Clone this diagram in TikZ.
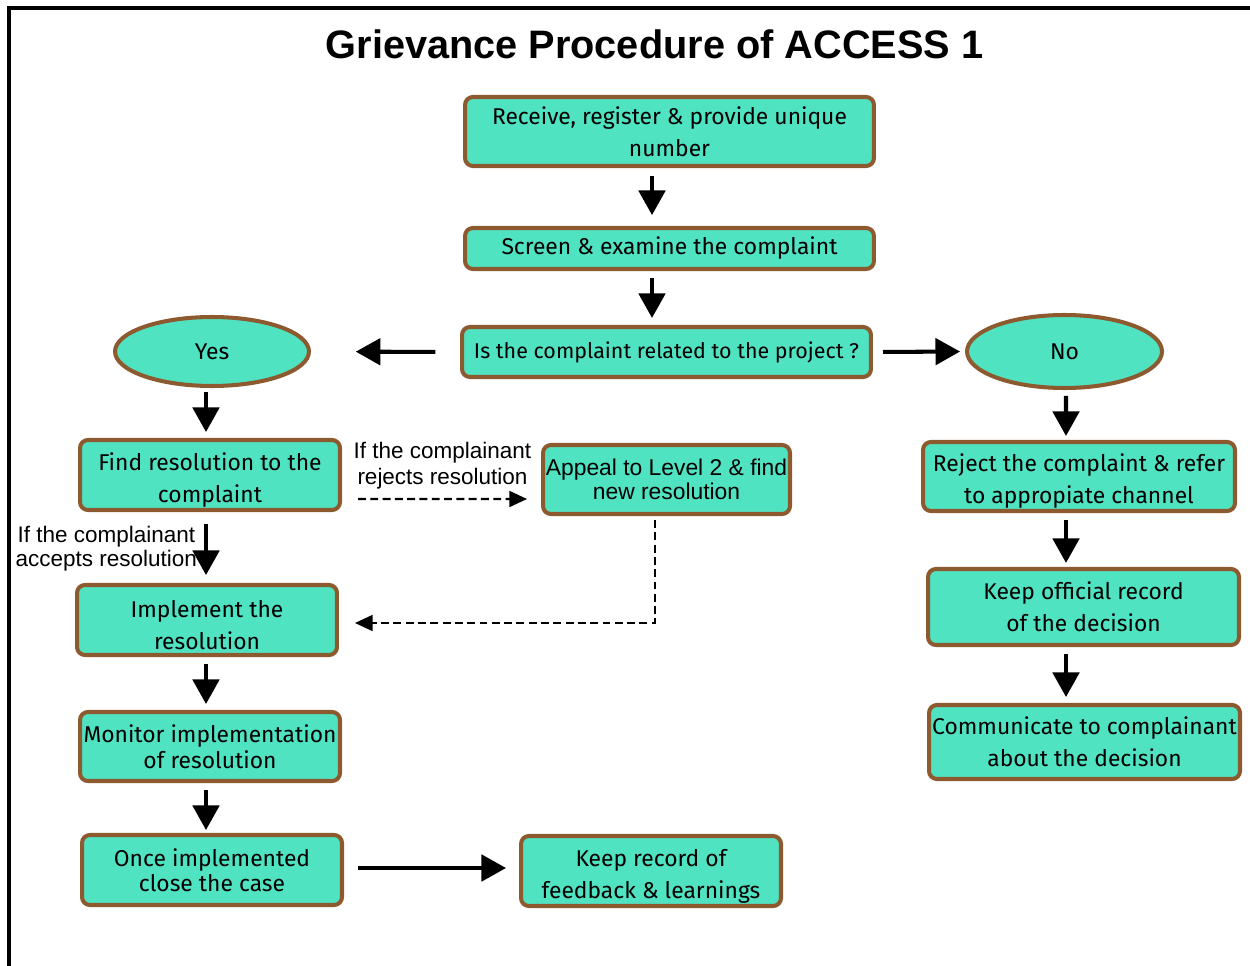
\documentclass[tikz,border=0pt]{standalone}
\usepackage{fontspec}
\setmainfont{Fira Sans}
\newfontfamily\arialfont{Liberation Sans}
\usetikzlibrary{arrows.meta,calc,shapes.geometric}
\definecolor{boxfill}{HTML}{50E3C2}
\definecolor{boxedge}{HTML}{8C5A2E}
\newcommand{\lowline}{\rule{0pt}{15.5pt}}
\begin{document}
\begin{tikzpicture}[x=0.02cm,y=-0.02cm,inner sep=1pt,
procblock/.style={draw=boxedge,fill=boxfill,rectangle,rounded corners=4.5pt,line width=2.3pt,align=center,font=\fontsize{13}{18}\selectfont},
decblock/.style={draw=boxedge,fill=boxfill,ellipse,line width=2.3pt,font=\fontsize{13}{18}\selectfont},
flow/.style={line width=2.3pt,-{Triangle[length=14pt,width=15pt]}},
altflow/.style={line width=1.3pt,dash pattern=on 4.5pt off 2.5pt,-{Triangle[length=10pt,width=9pt]}},
cond/.style={font=\arialfont\fontsize{12.8}{14.5}\selectfont,align=center}]
\useasboundingbox (0,0) rectangle (1250,966);
\draw[line width=2pt] (9,966) -- (9,8) -- (1250,8);
\draw (654.5,44) node[font=\arialfont\bfseries\fontsize{22.6}{26}\selectfont] (title) {Grievance Procedure of ACCESS 1};

\draw (669.5,131.5) node[procblock,minimum width=8.18cm,minimum height=1.38cm] (recv) {Receive, register \& provide unique\\number};
\draw (669.5,248.5) node[procblock,minimum width=8.18cm,minimum height=0.82cm] (screen) {Screen \& examine the complaint};
\draw (666.5,352) node[procblock,minimum width=8.18cm,minimum height=1cm,font=\fontsize{12.2}{15}\selectfont] (related) {Is the complaint related to the project ?};
\draw (212,351.5) node[decblock,minimum width=3.88cm,minimum height=1.38cm] (yes) {Yes};
\draw (1064.5,351.5) node[decblock,minimum width=3.9cm,minimum height=1.46cm] (no) {No};

% left branch
\draw (210,475) node[procblock,minimum width=5.2cm,minimum height=1.4cm] (find) {\lowline Find resolution to the\\complaint};
\draw (666.5,479.5) node[procblock,minimum width=4.94cm,minimum height=1.38cm,font=\arialfont\fontsize{13}{14}\selectfont] (appeal) {Appeal to Level 2 \& find\\new resolution};
\draw (207,620) node[procblock,minimum width=5.2cm,minimum height=1.4cm] (impl) {\lowline Implement the\\resolution};
\draw (210,746.5) node[procblock,minimum width=5.2cm,minimum height=1.38cm,font=\fontsize{13}{14.5}\selectfont] (monitor) {Monitor implementation\\of resolution};
\draw (212,870) node[procblock,minimum width=5.2cm,minimum height=1.4cm,font=\fontsize{13}{14.5}\selectfont] (close) {Once implemented\\close the case};
\draw (651,871) node[procblock,minimum width=5.2cm,minimum height=1.4cm] (learn) {\lowline Keep record of\\feedback \& learnings};

% right branch
\draw (1079,476.5) node[procblock,minimum width=6.24cm,minimum height=1.38cm] (reject) {\lowline Reject the complaint \& refer\\to appropiate channel};
\draw (1083.5,607) node[procblock,minimum width=6.22cm,minimum height=1.52cm] (official) {Keep official record\\of the decision};
\draw (1084.5,742) node[procblock,minimum width=6.22cm,minimum height=1.48cm] (inform) {Communicate to complainant\\about the decision};

\draw[flow,shorten <=4.5pt,shorten >=6.2pt] ($(recv.south)+(-17.5,0)$) -- ($(screen.north)+(-17.5,0)$);
\draw[flow,shorten <=4pt,shorten >=4pt] ($(screen.south)+(-17.5,0)$) -- ($(related.north)+(-14.5,0)$);
\draw[flow,shorten <=14pt,shorten >=25.5pt] (related.west) -- (yes.east);
\draw[flow,shorten <=5.7pt,shorten >=2.8pt] (related.east) -- (no.west);
\draw[flow,shorten <=2.3pt,shorten >=3.4pt] ($(yes.south)+(-6,0)$) -- ($(find.north)+(-4,0)$);
\draw[flow,shorten <=3.4pt,shorten >=2.3pt] ($(no.south)+(1.5,0)$) -- ($(reject.north)+(-13,0)$);
\draw[flow,shorten <=4pt,shorten >=2.3pt] ($(reject.south)+(-13,0)$) -- ($(official.north)+(-17.5,0)$);
\draw[flow,shorten <=4pt,shorten >=3.4pt] ($(official.south)+(-17.5,0)$) -- ($(inform.north)+(-18.5,0)$);
\draw[flow,shorten <=6.8pt,shorten >=4.5pt] ($(find.south)+(-4,0)$) -- ($(impl.north)+(-1,0)$)
  node[cond,pos=0.52,left=3pt,font=\arialfont\fontsize{12.8}{13.8}\selectfont] {If the complainant\\accepts resolution};
\draw[altflow] ($(find.east)+(16,24)$) -- ($(appeal.west)+(-14,19.5)$)
  node[cond,midway,above=4pt] {If the complainant\\rejects resolution};
\draw[altflow] ($(appeal.south)+(-11.5,4)$) |- ($(impl.east)+(16,3)$);
\draw[flow,shorten <=4pt,shorten >=3.4pt] ($(impl.south)+(-1,0)$) -- ($(monitor.north)+(-4,0)$);
\draw[flow,shorten <=4pt,shorten >=1.7pt] ($(monitor.south)+(-4,0)$) -- ($(close.north)+(-6,0)$);
\draw[flow,shorten <=8pt,shorten >=7.4pt] ($(close.east)+(0,-2)$) -- ($(learn.west)+(0,-3)$);
\end{tikzpicture}
\end{document}
